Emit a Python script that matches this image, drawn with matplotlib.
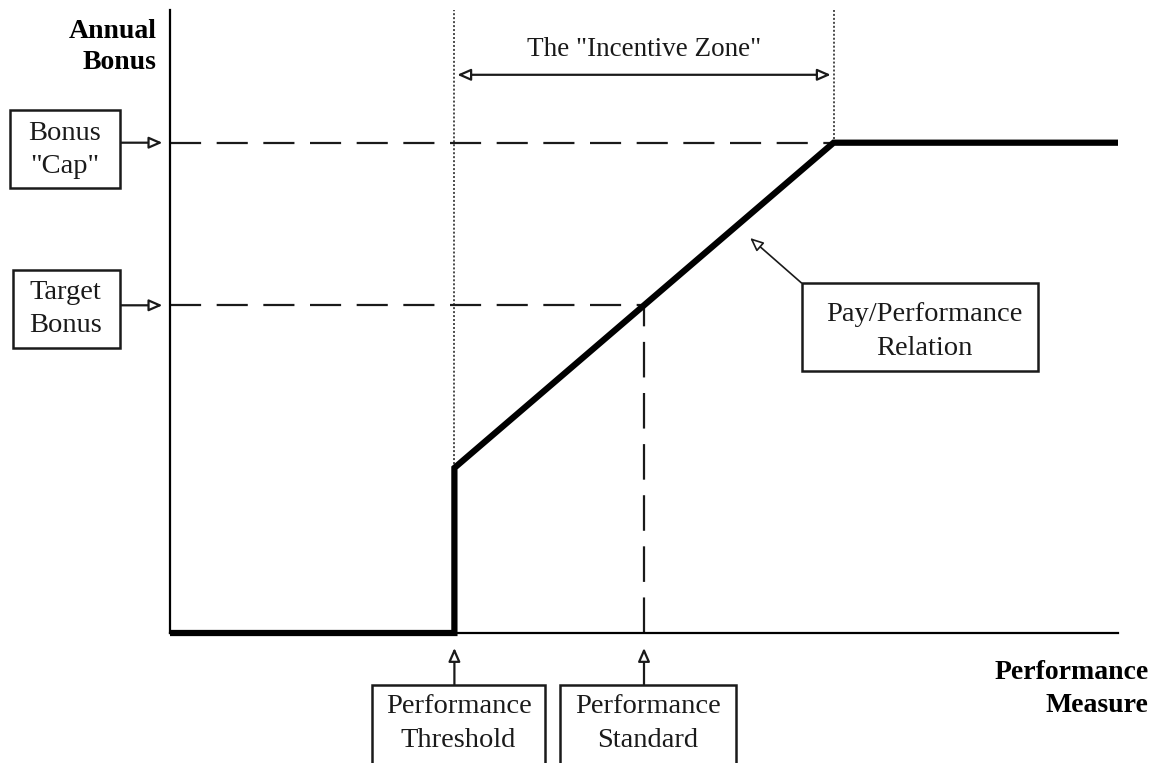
import matplotlib.pyplot as plt
from matplotlib.patches import Rectangle

# performance measure (0-100) and annual bonus (0-100)
threshold = 30
standard = 50
cap_perf = 70
perf_max = 100
bonus_at_threshold = 26.5
target_bonus = 52.6
bonus_cap = 78.7

curve_x = [0, threshold, threshold, cap_perf, perf_max]
curve_y = [0, 0, bonus_at_threshold, bonus_cap, bonus_cap]

plt.rcParams['font.family'] = ['Liberation Serif', 'DejaVu Serif']

fig = plt.figure(figsize=(11.58, 7.63), dpi=100)
ax = fig.add_axes([170 / 1158, 130 / 763, 948 / 1158, 623 / 763])
ax.set_xlim(0, 100)
ax.set_ylim(0, 100)
ax.spines['top'].set_visible(False)
ax.spines['right'].set_visible(False)
ax.spines['left'].set_linewidth(1.6)
ax.spines['bottom'].set_linewidth(1.6)
ax.set_xticks([])
ax.set_yticks([])

tc = '#1a1a1a'

# reference lines
dash = (0, (14, 7))
ax.plot([0, cap_perf], [bonus_cap, bonus_cap], color=tc, lw=1.6, ls=dash)
ax.plot([0, standard], [target_bonus, target_bonus], color=tc, lw=1.6, ls=dash)
ax.plot([standard, standard], [0, target_bonus], color=tc, lw=1.6, ls=(0, (16, 7)))
ax.plot([threshold, threshold], [bonus_at_threshold, 100], color=tc, lw=1.1, ls=(0, (1.3, 1.3)))
ax.plot([cap_perf, cap_perf], [bonus_cap, 100], color=tc, lw=1.1, ls=(0, (1.3, 1.3)))

# pay/performance curve
ax.plot(curve_x, curve_y, color='black', lw=4.5, solid_capstyle='butt',
        solid_joinstyle='miter', clip_on=False, zorder=5)

arrow = dict(arrowstyle='-|>,head_length=0.8,head_width=0.35', color=tc, lw=1.6,
             fc='white', shrinkA=0, shrinkB=0)
fs = 20.5


def box(x0, y0, x1, y1):
    ax.add_patch(Rectangle((x0, y0), x1 - x0, y1 - y0, fc='white', ec=tc,
                           lw=1.8, clip_on=False, zorder=6))


# incentive zone
ax.annotate('', xy=(threshold + 0.3, 89.6), xytext=(cap_perf - 0.3, 89.6),
            arrowprops=dict(arrow, arrowstyle='<|-|>,head_length=0.8,head_width=0.35'))
ax.text((threshold + cap_perf) / 2, 93.6, 'The "Incentive Zone"', ha='center',
        va='center', fontsize=19.5, color=tc)

# axis titles
ax.text(-1.4, 94.0, 'Annual\nBonus', ha='right', va='center', fontsize=20,
        fontweight='bold', linespacing=1.32, color='black', clip_on=False)
ax.text(103.2, -9.0, 'Performance\nMeasure', ha='right', va='center', fontsize=20,
        fontweight='bold', linespacing=1.38, color='black', clip_on=False)

# y-side labels
ax.annotate('', xy=(-0.8, bonus_cap), xytext=(-5.3, bonus_cap), arrowprops=arrow,
            annotation_clip=False)
box(-16.88, 71.43, -5.27, 83.95)
ax.text(-11.1, 77.5, 'Bonus\n"Cap"', ha='center', va='center', fontsize=fs,
        color=tc, linespacing=1.45, clip_on=False, zorder=7)
ax.annotate('', xy=(-0.8, target_bonus), xytext=(-5.3, target_bonus), arrowprops=arrow,
            annotation_clip=False)
box(-16.56, 45.75, -5.27, 58.27)
ax.text(-11.0, 52.0, 'Target\nBonus', ha='center', va='center', fontsize=fs,
        color=tc, linespacing=1.45, clip_on=False, zorder=7)

# x-side labels
for xv, lab, bx in [(threshold, 'Performance\nThreshold', (21.31, 39.56)),
                    (standard, 'Performance\nStandard', (41.14, 59.70))]:
    ax.annotate('', xy=(xv, -2.4), xytext=(xv, -8.3), arrowprops=arrow,
                annotation_clip=False)
    box(bx[0], -22, bx[1], -8.3)
    ax.text((bx[0] + bx[1]) / 2, -14.5, lab, ha='center', va='center', fontsize=fs,
            color=tc, linespacing=1.45, clip_on=False, zorder=7)

# curve label
ax.annotate('', xy=(61.2, 63.4), xytext=(66.6, 56.2),
            arrowprops=dict(arrow, lw=1.2), annotation_clip=False)
box(66.67, 42.05, 91.56, 56.18)
ax.text(79.6, 48.4, 'Pay/Performance\nRelation', ha='center', va='center',
        fontsize=fs, color=tc, linespacing=1.45, zorder=7)

fig.savefig('out.png', dpi=100)
